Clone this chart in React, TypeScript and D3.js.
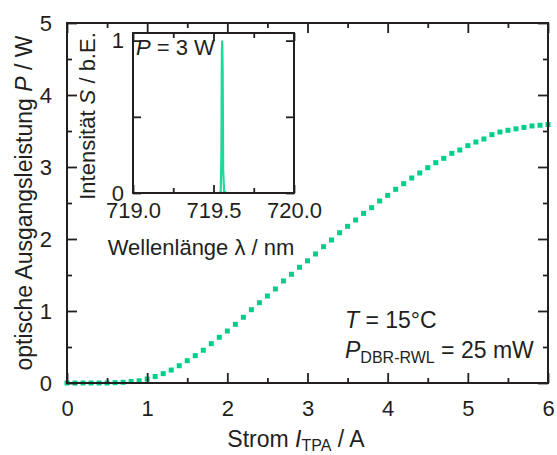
import React, { useEffect, useRef } from "react";
import * as d3 from "d3";

// main curve: current (A) vs optical output power (W)
const current = [
  0.0, 0.1, 0.2, 0.3, 0.4, 0.5, 0.6, 0.7, 0.8, 0.9,
  1.0, 1.1, 1.2, 1.3, 1.4, 1.5, 1.6, 1.7, 1.8, 1.9,
  2.0, 2.1, 2.2, 2.3, 2.4, 2.5, 2.6, 2.7, 2.8, 2.9,
  3.0, 3.1, 3.2, 3.3, 3.4, 3.5, 3.6, 3.7, 3.8, 3.9,
  4.0, 4.1, 4.2, 4.3, 4.4, 4.5, 4.6, 4.7, 4.8, 4.9,
  5.0, 5.1, 5.2, 5.3, 5.4, 5.5, 5.6, 5.7, 5.8, 5.9, 6.0,
];
const power = [
  0, 0, 0, 0, 0, 0, 0.005, 0.01, 0.02, 0.03,
  0.055, 0.09, 0.13, 0.18, 0.24, 0.31, 0.38, 0.455, 0.546, 0.635,
  0.722, 0.815, 0.913, 1.018, 1.115, 1.208, 1.306, 1.417, 1.51, 1.607,
  1.697, 1.792, 1.893, 1.986, 2.087, 2.176, 2.264, 2.356, 2.435, 2.528,
  2.606, 2.69, 2.768, 2.847, 2.917, 2.99, 3.06, 3.12, 3.19, 3.236,
  3.296, 3.347, 3.389, 3.449, 3.486, 3.51, 3.53, 3.55, 3.57, 3.58, 3.59,
];

// inset spectrum at P = 3 W
const wavelength = [719.0, 719.535, 719.545, 719.549, 719.552, 719.554, 719.557, 719.56, 719.566, 719.58, 720.0];
const intensity = [0, 0, 0.01, 0.25, 0.92, 1.0, 0.8, 0.15, 0.01, 0, 0];

const xTicks = [0, 1, 2, 3, 4, 5, 6];
const xMinor = [0.5, 1.5, 2.5, 3.5, 4.5, 5.5];
const yTicks = [0, 1, 2, 3, 4, 5];
const yMinor = [0.5, 1.5, 2.5, 3.5, 4.5];
const insetXTicks = [719.0, 719.5, 720.0];
const insetXMinor = [719.25, 719.75];
const insetYTicks = [0, 0.5, 1];
const insetYLabels = [0, 1];

const FONT = "'Liberation Sans', Arial, sans-serif";
const INK = "#231f20";
const GREEN = "#00cf8a";

const App = () => {
  const ref = useRef(null);

  useEffect(() => {
    const svg = d3.select(ref.current);
    svg.selectAll("*").remove();

    const x = d3.scaleLinear().domain([0, 6]).range([67, 548]);
    const y = d3.scaleLinear().domain([0, 5]).range([383, 23]);

    const styleAxis = (g, labels) => {
      g.select(".domain").remove();
      g.selectAll("line").attr("stroke", INK).attr("stroke-width", 1.8);
      g.selectAll("text")
        .attr("fill", INK)
        .style("font-family", FONT)
        .style("font-size", "22px");
      if (!labels) g.selectAll("text").remove();
    };

    const axes = (xs, ys, opt) => {
      const [x0, x1] = xs.range();
      const [y0, y1] = ys.range();
      // majors with labels
      svg.append("g").attr("transform", `translate(0,${y0})`)
        .call(d3.axisBottom(xs).tickValues(opt.xT).tickSize(-opt.major).tickSizeOuter(0)
          .tickPadding(opt.xPad).tickFormat(opt.xFmt))
        .call((g) => styleAxis(g, true));
      svg.append("g").attr("transform", `translate(${x0},0)`)
        .call(d3.axisLeft(ys).tickValues(opt.yT).tickSize(-opt.major).tickSizeOuter(0)
          .tickPadding(opt.yPad).tickFormat(opt.yFmt))
        .call((g) => styleAxis(g, true));
      svg.append("g").attr("transform", `translate(0,${y1})`)
        .call(d3.axisTop(xs).tickValues(opt.xT).tickSize(-opt.major).tickSizeOuter(0))
        .call((g) => styleAxis(g, false));
      svg.append("g").attr("transform", `translate(${x1},0)`)
        .call(d3.axisRight(ys).tickValues(opt.yT).tickSize(-opt.major).tickSizeOuter(0))
        .call((g) => styleAxis(g, false));
      // minors
      if (opt.xM.length) {
        svg.append("g").attr("transform", `translate(0,${y0})`)
          .call(d3.axisBottom(xs).tickValues(opt.xM).tickSize(-opt.minor).tickSizeOuter(0))
          .call((g) => styleAxis(g, false));
        svg.append("g").attr("transform", `translate(0,${y1})`)
          .call(d3.axisTop(xs).tickValues(opt.xM).tickSize(-opt.minor).tickSizeOuter(0))
          .call((g) => styleAxis(g, false));
      }
      if (opt.yM.length) {
        svg.append("g").attr("transform", `translate(${x0},0)`)
          .call(d3.axisLeft(ys).tickValues(opt.yM).tickSize(-opt.minor).tickSizeOuter(0))
          .call((g) => styleAxis(g, false));
        svg.append("g").attr("transform", `translate(${x1},0)`)
          .call(d3.axisRight(ys).tickValues(opt.yM).tickSize(-opt.minor).tickSizeOuter(0))
          .call((g) => styleAxis(g, false));
      }
      svg.append("rect")
        .attr("x", x0).attr("y", y1)
        .attr("width", x1 - x0).attr("height", y0 - y1)
        .attr("fill", "none").attr("stroke", INK).attr("stroke-width", 2);
    };

    // main data points (squares)
    svg.append("g")
      .selectAll("rect")
      .data(current.map((c, i) => [c, power[i]]))
      .enter()
      .append("rect")
      .attr("x", (d) => x(d[0]) - 2.5)
      .attr("y", (d) => y(d[1]) - 2.5)
      .attr("width", 5)
      .attr("height", 5)
      .attr("fill", GREEN);

    axes(x, y, {
      xT: xTicks, xM: xMinor, yT: yTicks, yM: yMinor,
      major: 10, minor: 5, xPad: 17, yPad: 15,
      xFmt: d3.format("d"), yFmt: d3.format("d"),
    });

    // inset
    const ix = d3.scaleLinear().domain([719, 720]).range([133, 294]);
    const iy = d3.scaleLinear().domain([0, 1.05]).range([193, 33]);

    svg.append("path")
      .datum(wavelength.map((w, i) => [w, intensity[i]]))
      .attr("fill", "none")
      .attr("stroke", "#1fd999")
      .attr("stroke-width", 2.2)
      .attr("d", d3.line().x((d) => ix(d[0])).y((d) => iy(d[1])));

    axes(ix, iy, {
      xT: insetXTicks, xM: insetXMinor, yT: insetYTicks, yM: [],
      major: 8, minor: 5, xPad: 9, yPad: 9,
      xFmt: d3.format(".1f"),
      yFmt: (d) => (insetYLabels.includes(d) ? d3.format("d")(d) : ""),
    });

    const text = (tx, ty, rot) =>
      svg.append("text")
        .attr("transform", `translate(${tx},${ty})${rot ? " rotate(-90)" : ""}`)
        .attr("fill", INK)
        .style("font-family", FONT)
        .style("font-size", "23px");

    // axis titles
    const xt = text(296, 447, false).attr("text-anchor", "middle");
    xt.append("tspan").text("Strom ");
    xt.append("tspan").style("font-style", "italic").text("I");
    xt.append("tspan").style("font-size", "16px").attr("dy", 4).text("TPA");
    xt.append("tspan").attr("dy", -4).text(" / A");

    const yt = text(32, 203, true).attr("text-anchor", "middle");
    yt.append("tspan").text("optische Ausgangsleistung ");
    yt.append("tspan").style("font-style", "italic").text("P");
    yt.append("tspan").text(" / W");

    const it = text(95, 116, true).attr("text-anchor", "middle").style("font-size", "22px");
    it.append("tspan").text("Intensität ");
    it.append("tspan").style("font-style", "italic").text("S");
    it.append("tspan").text(" / b.E.");

    text(201, 255, false).attr("text-anchor", "middle").style("font-size", "22px").text("Wellenlänge λ / nm");

    const p3 = text(136, 55, false).style("font-size", "22px");
    p3.append("tspan").style("font-style", "italic").text("P");
    p3.append("tspan").text(" = 3 W");

    // annotation
    const t1 = text(345, 328, false);
    t1.append("tspan").style("font-style", "italic").text("T");
    t1.append("tspan").text(" = 15°C");

    const t2 = text(345, 358, false);
    t2.append("tspan").style("font-style", "italic").text("P");
    t2.append("tspan").style("font-size", "16px").attr("dy", 5).text("DBR-RWL");
    t2.append("tspan").attr("dy", -5).text(" = 25 mW");
  }, []);

  return (
    <div style={{ position: "absolute", left: 0, top: 0 }}>
      <svg ref={ref} width={557} height={455} style={{ display: "block", background: "#fff" }} />
    </div>
  );
};

export default App;
